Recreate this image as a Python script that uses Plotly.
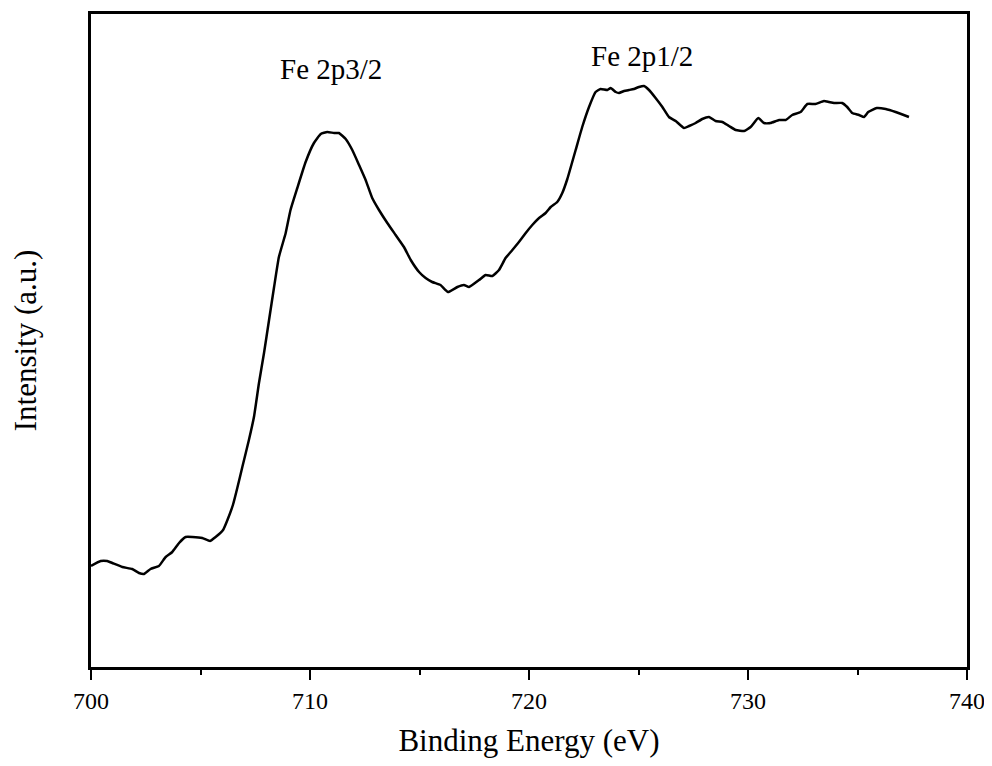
import plotly.graph_objects as go

# Binding energy (eV)
energy = [700.00, 700.44, 700.74, 700.97, 701.43, 701.88, 702.19, 702.42, 702.72, 703.10,
          703.41, 703.71, 704.02, 704.32, 704.63, 705.08, 705.43, 705.69, 706.03, 706.23,
          706.48, 706.68, 706.91, 707.21, 707.44, 707.67, 707.90, 708.13, 708.36, 708.58,
          708.89, 709.11, 709.42, 709.80, 710.18, 710.49, 710.79, 711.10, 711.32, 711.63,
          711.93, 712.24, 712.54, 712.84, 713.15, 713.53, 713.91, 714.29, 714.60, 714.98,
          715.28, 715.58, 715.96, 716.30, 716.73, 717.03, 717.26, 717.72, 718.02, 718.33,
          718.63, 718.93, 719.24, 719.54, 719.85, 720.15, 720.46, 720.76, 720.99, 721.29,
          721.52, 721.75, 722.13, 722.43, 722.74, 723.04, 723.27, 723.58, 723.73, 723.96,
          724.11, 724.34, 724.57, 724.79, 725.02, 725.25, 725.48, 725.78, 726.09, 726.39,
          726.70, 727.08, 727.31, 727.61, 727.91, 728.22, 728.52, 728.83, 729.13, 729.44,
          729.82, 730.12, 730.47, 730.73, 731.03, 731.42, 731.72, 732.02, 732.40, 732.71,
          733.08, 733.47, 733.70, 733.93, 734.30, 734.53, 734.76, 735.07, 735.30, 735.49,
          735.88, 736.29, 736.74, 737.35]

# Intensity (arbitrary units)
intensity = [101, 106, 106, 104, 100, 98, 94, 93, 98, 101,
             110, 115, 124, 130, 130, 129, 126, 130, 137, 147,
             162, 179, 200, 227, 250, 284, 314, 347, 380, 410,
             434, 457, 479, 505, 524, 533, 535, 534, 534, 528,
             517, 502, 487, 469, 457, 444, 432, 420, 407, 395,
             389, 385, 382, 375, 380, 382, 380, 387, 392, 391,
             397, 409, 417, 425, 434, 442, 449, 454, 460, 465,
             474, 488, 517, 540, 560, 575, 578, 577, 579, 575,
             574, 576, 577, 578, 580, 581, 577, 569, 560, 550,
             546, 539, 541, 544, 548, 550, 546, 545, 541, 537,
             536, 540, 549, 544, 544, 547, 547, 552, 555, 563,
             563, 566, 565, 564, 564, 560, 554, 552, 550, 555,
             559, 558, 555, 550]

peak_labels = ["Fe 2p3/2", "Fe 2p1/2"]
peak_x = [710.95, 725.15]
peak_y = [598, 611]

x_tickvals = [700, 710, 720, 730, 740]
x_ticktext = ["700", "710", "720", "730", "740"]

FONT = "Liberation Serif, Times New Roman, serif"

fig = go.Figure()
fig.add_trace(go.Scatter(x=energy, y=intensity, mode="lines",
                         line=dict(color="black", width=2.5, shape="spline", smoothing=0.4),
                         showlegend=False, hoverinfo="skip"))

for lbl, px, py in zip(peak_labels, peak_x, peak_y):
    fig.add_annotation(x=px, y=py, text=lbl, showarrow=False,
                       font=dict(family=FONT, size=29, color="black"),
                       xanchor="center", yanchor="middle")

fig.update_layout(
    width=976, height=750,
    margin=dict(l=83, r=17, t=6, b=91),
    paper_bgcolor="white", plot_bgcolor="white",
    font=dict(family=FONT, color="black"),
)
fig.update_xaxes(
    automargin=False,
    ticklabeloverflow="allow",
    range=[700, 740], tickvals=x_tickvals, ticktext=x_ticktext,
    ticks="outside", ticklen=10, tickwidth=2, tickcolor="black",
    minor=dict(dtick=5, ticks="outside", ticklen=5, tickwidth=2, tickcolor="black", showgrid=False),
    showline=True, linewidth=2.5, linecolor="black", mirror=True,
    showgrid=False, zeroline=False,
    tickfont=dict(family=FONT, size=24, color="black"),
    title=dict(text="Binding Energy (eV)", font=dict(family=FONT, size=31, color="black"), standoff=22),
)
fig.update_yaxes(
    automargin=False,
    range=[0, 653], showticklabels=False, ticks="",
    showline=True, linewidth=2.5, linecolor="black", mirror=True,
    showgrid=False, zeroline=False,
    title=dict(text="Intensity (a.u.)", font=dict(family=FONT, size=31, color="black"), standoff=46),
)

fig.write_html("out.html")
